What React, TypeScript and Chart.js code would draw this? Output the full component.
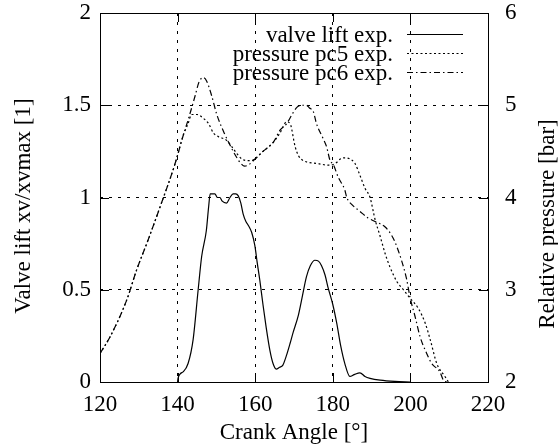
import React, { useEffect, useRef } from "react";
import { Chart, registerables } from "chart.js";

Chart.register(...registerables);

// Crank angle [deg] and normalized valve lift [1]
const liftAngle = [140, 140.1, 141.5, 142.7, 144.0, 145.3, 146.2, 147.4, 148.0, 148.4, 149.6, 150.3, 150.9, 151.5, 152.6, 153.5, 154.3, 155.0, 155.6, 156.3, 156.9, 157.6, 158.2, 159.1, 159.9, 160.5, 161.2, 162.0, 162.8, 163.8, 164.6, 165.4, 166.3, 167.1, 168.0, 169.0, 169.8, 171.1, 172.2, 173.2, 174.2, 175.4, 176.3, 177.1, 178.0, 178.8, 180.0, 181.0, 182.0, 183.1, 184.4, 185.5, 187.0, 188.3, 189.6, 192.2, 196.0, 200.0];
const liftValue = [0, 0.02, 0.056, 0.1, 0.23, 0.5, 0.68, 0.82, 0.95, 1.02, 1.02, 1.0, 1.0, 0.98, 0.97, 1.0, 1.02, 1.02, 1.01, 0.97, 0.91, 0.87, 0.85, 0.81, 0.74, 0.65, 0.55, 0.42, 0.3, 0.17, 0.1, 0.07, 0.08, 0.09, 0.14, 0.21, 0.27, 0.36, 0.47, 0.57, 0.63, 0.66, 0.655, 0.63, 0.58, 0.51, 0.42, 0.32, 0.2, 0.1, 0.03, 0.04, 0.05, 0.03, 0.02, 0.01, 0.003, 0];

// Crank angle [deg] and relative pressure pc5 [bar]
const pc5Angle = [120, 122.6, 126.9, 129.4, 132.4, 135.5, 139.3, 141.5, 142.7, 143.6, 145.0, 146.6, 148.0, 149.2, 150.5, 152.6, 154.0, 155.2, 156.5, 157.8, 159.0, 160.0, 162.0, 164.7, 166.4, 168.1, 169.0, 170.3, 171.2, 172.4, 175.8, 179.3, 181.0, 182.0, 183.1, 184.3, 185.7, 187.0, 188.3, 189.6, 190.9, 192.2, 193.5, 194.7, 196.5, 198.2, 199.9, 202.0, 203.8, 205.1, 206.8, 208.9, 209.8];
const pc5Value = [2.31, 2.49, 2.89, 3.21, 3.54, 3.9, 4.36, 4.68, 4.8, 4.9, 4.9, 4.86, 4.8, 4.7, 4.66, 4.62, 4.55, 4.48, 4.42, 4.4, 4.4, 4.42, 4.5, 4.6, 4.7, 4.82, 4.8, 4.55, 4.45, 4.4, 4.37, 4.35, 4.38, 4.42, 4.43, 4.42, 4.37, 4.24, 4.1, 4.0, 3.76, 3.58, 3.39, 3.25, 3.09, 3.0, 2.91, 2.8, 2.64, 2.46, 2.2, 2.06, 2.0];

// Crank angle [deg] and relative pressure pc6 [bar]
const pc6Angle = [120, 122.6, 126.9, 129.4, 132.4, 135.5, 139.3, 141.5, 142.7, 144.5, 145.5, 146.6, 147.5, 148.8, 150.1, 152.0, 153.6, 155.0, 156.1, 157.3, 158.5, 160.0, 162.0, 164.7, 166.4, 168.1, 169.5, 170.8, 172.4, 173.2, 174.0, 175.0, 175.8, 177.5, 178.4, 179.3, 180.1, 181.4, 183.1, 183.6, 185.0, 187.0, 189.0, 190.9, 193.5, 195.0, 196.0, 197.7, 199.0, 199.9, 201.2, 202.5, 204.2, 205.5, 207.6, 208.5, 209.5];
const pc6Value = [2.31, 2.49, 2.89, 3.21, 3.54, 3.9, 4.36, 4.68, 4.84, 5.1, 5.25, 5.3, 5.26, 5.1, 4.9, 4.7, 4.56, 4.45, 4.38, 4.34, 4.36, 4.42, 4.5, 4.6, 4.73, 4.8, 4.9, 4.98, 5.0, 5.0, 4.97, 4.93, 4.8, 4.64, 4.55, 4.4, 4.36, 4.22, 4.08, 4.0, 3.92, 3.85, 3.78, 3.74, 3.68, 3.6, 3.52, 3.32, 3.12, 2.92, 2.71, 2.49, 2.31, 2.2, 2.11, 2.02, 2.0];

const xTicks = [120, 140, 160, 180, 200, 220];
const liftTicks = [0, 0.5, 1, 1.5, 2];
const pressureTicks = [2, 3, 4, 5, 6];
const seriesLabels = ["valve lift exp.", "pressure pc5 exp.", "pressure pc6 exp."];
const xTitle = "Crank Angle [°]";
const leftTitle = "Valve lift xv/xvmax [1]";
const rightTitle = "Relative pressure [bar]";

const FONT = '"Liberation Serif", "Times New Roman", serif';
const FS = 23;
const dashes: number[][] = [[], [2, 2.5], [6, 3, 1.5, 3]];

const toPoints = (xs: number[], ys: number[]) => xs.map((x, i) => ({ x, y: ys[i] }));

const noPad = (s: any) => {
  s.paddingTop = 0;
  s.paddingBottom = 0;
  s.paddingLeft = 0;
  s.paddingRight = 0;
};

const framePlugin = {
  id: "gnuplotFrame",
  afterDraw(chart: any) {
    const { ctx, chartArea: a, scales } = chart;
    const tl = 9;
    ctx.save();
    ctx.strokeStyle = "#000";
    ctx.lineWidth = 1;
    ctx.setLineDash([]);
    ctx.beginPath();
    for (const v of xTicks) {
      const px = Math.round(scales.x.getPixelForValue(v)) + 0.5;
      ctx.moveTo(px, a.bottom);
      ctx.lineTo(px, a.bottom - tl);
      ctx.moveTo(px, a.top);
      ctx.lineTo(px, a.top + tl);
    }
    for (const v of liftTicks) {
      const py = Math.round(scales.y.getPixelForValue(v)) + 0.5;
      ctx.moveTo(a.left, py);
      ctx.lineTo(a.left + tl, py);
    }
    for (const v of pressureTicks) {
      const py = Math.round(scales.y2.getPixelForValue(v)) + 0.5;
      ctx.moveTo(a.right, py);
      ctx.lineTo(a.right - tl, py);
    }
    ctx.stroke();
    ctx.strokeRect(Math.round(a.left) + 0.5, Math.round(a.top) + 0.5, Math.round(a.right - a.left), Math.round(a.bottom - a.top));

    // legend (inside plot, top right)
    ctx.font = `${FS}px ${FONT}`;
    ctx.fillStyle = "#000";
    ctx.textAlign = "right";
    ctx.textBaseline = "alphabetic";
    const rows = [34, 53, 72];
    seriesLabels.forEach((label, i) => {
      ctx.fillText(label, 393, rows[i] + 8);
      ctx.beginPath();
      ctx.lineWidth = 1.2;
      ctx.setLineDash(dashes[i]);
      ctx.moveTo(407, rows[i] + 0.5);
      ctx.lineTo(463, rows[i] + 0.5);
      ctx.stroke();
    });
    ctx.setLineDash([]);

    // axis titles, reading bottom-to-top
    const vTitle = (text: string, x: number, y: number) => {
      ctx.save();
      ctx.translate(x, y);
      ctx.rotate(-Math.PI / 2);
      ctx.textAlign = "center";
      ctx.textBaseline = "middle";
      ctx.fillText(text, 0, 0);
      ctx.restore();
    };
    vTitle(leftTitle, 24, 206);
    vTitle(rightTitle, 548, 224);
    ctx.textAlign = "center";
    ctx.textBaseline = "middle";
    ctx.fillText(xTitle, (a.left + a.right) / 2, 433);
    ctx.restore();
  },
};

export default function App() {
  const ref = useRef<HTMLCanvasElement | null>(null);
  useEffect(() => {
    if (!ref.current) return;
    const tickFont = { family: FONT, size: FS };
    const fmt = (v: any) => String(v);
    const chart = new Chart(ref.current, {
      type: "line",
      data: {
        datasets: [
          { label: seriesLabels[0], data: toPoints(liftAngle, liftValue), yAxisID: "y", borderColor: "#000", borderWidth: 1.2, borderDash: dashes[0], pointRadius: 0, cubicInterpolationMode: "monotone", fill: false },
          { label: seriesLabels[1], data: toPoints(pc5Angle, pc5Value), yAxisID: "y2", borderColor: "#000", borderWidth: 1.2, borderDash: dashes[1], pointRadius: 0, cubicInterpolationMode: "monotone", fill: false },
          { label: seriesLabels[2], data: toPoints(pc6Angle, pc6Value), yAxisID: "y2", borderColor: "#000", borderWidth: 1.2, borderDash: dashes[2], pointRadius: 0, cubicInterpolationMode: "monotone", fill: false },
        ],
      },
      options: {
        animation: false,
        responsive: false,
        devicePixelRatio: 1,
        layout: { padding: { top: 13, left: 0, right: 0, bottom: 0 } },
        plugins: { legend: { display: false }, tooltip: { enabled: false } },
        scales: {
          x: {
            type: "linear",
            min: 120,
            max: 220,
            afterBuildTicks: (s: any) => { s.ticks = xTicks.map((v) => ({ value: v })); },
            afterFit: (s: any) => { s.height = 63; noPad(s); },
            ticks: { font: tickFont, color: "#000", padding: 9, maxRotation: 0, autoSkip: false, callback: fmt },
            grid: { color: "#000", lineWidth: 1, drawTicks: false },
            border: { display: false, dash: [3, 6] },
          },
          y: {
            type: "linear",
            position: "left",
            min: 0,
            max: 2,
            afterBuildTicks: (s: any) => { s.ticks = liftTicks.map((v) => ({ value: v })); },
            afterFit: (s: any) => { s.width = 100; noPad(s); },
            ticks: { font: tickFont, color: "#000", padding: 9, callback: fmt },
            grid: { color: "#000", lineWidth: 1, drawTicks: false },
            border: { display: false, dash: [3, 6] },
          },
          y2: {
            type: "linear",
            position: "right",
            min: 2,
            max: 6,
            afterBuildTicks: (s: any) => { s.ticks = pressureTicks.map((v) => ({ value: v })); },
            afterFit: (s: any) => { s.width = 70; noPad(s); },
            ticks: { font: tickFont, color: "#000", padding: 17, callback: fmt },
            grid: { display: false, drawTicks: false },
            border: { display: false },
          },
        },
      },
      plugins: [framePlugin],
    } as any);
    return () => chart.destroy();
  }, []);
  return (
    <div style={{ position: "fixed", left: 0, top: 0, width: 558, height: 445, background: "#fff" }}>
      <canvas ref={ref} width={558} height={445} style={{ width: 558, height: 445, display: "block" }} />
    </div>
  );
}
